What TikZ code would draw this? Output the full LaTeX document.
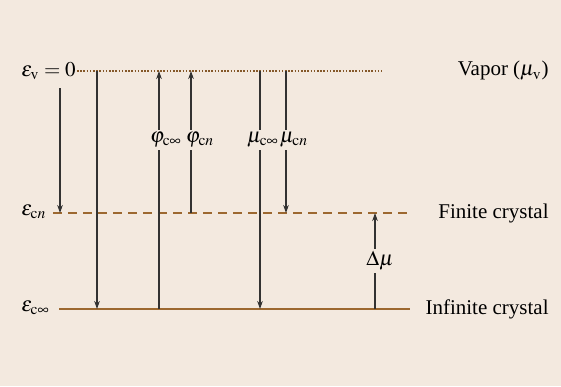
\documentclass[tikz,border=0pt]{standalone}
\usepackage{mathptmx}
\usepackage[no-math]{fontspec}
\setmainfont{Liberation Serif}
\usetikzlibrary{arrows.meta}
\definecolor{bgbeige}{RGB}{243,233,223}
\definecolor{levelbrown}{RGB}{156,104,48}
\definecolor{arrgray}{RGB}{50,50,50}

\tikzset{
  level/.style={levelbrown, line width=1pt},
  arr/.style={arrgray, line width=0.55pt, -{Stealth[length=4pt,width=2.8pt]}},
  lab/.style={fill=bgbeige, inner sep=1pt},
  lvlname/.style={inner sep=0pt, anchor=west},
  phase/.style={inner sep=0pt, anchor=east}
}

\begin{document}
\begin{tikzpicture}[x=0.5pt, y=-0.5pt, font=\fontsize{10.5}{12}\selectfont]
    \fill[bgbeige] (0,0) rectangle (561,386);

    % energy levels
    \coordinate (vapL) at (77,71);  \coordinate (vapR) at (382,71);
    \coordinate (finL) at (53,213); \coordinate (finR) at (410,213);
    \coordinate (infL) at (59,309); \coordinate (infR) at (410,309);
    \draw[level, levelbrown!85!black, line width=1.1pt, dash pattern=on 0.75pt off 0.85pt] (vapL) -- (vapR);
    \draw[level, dash pattern=on 4.5pt off 3pt] (finL) -- (finR);
    \draw[level] (infL) -- (infR);

    % level names
    \node[lvlname] (epsv) at (21,71) {$\varepsilon_{\mathrm{v}} = 0$};
    \node[lvlname] (epsn) at (21,212) {$\varepsilon_{\mathrm{c}n}$};
    \node[lvlname] (epsi) at (21,308) {$\varepsilon_{\mathrm{c}\infty}$};
    \node[phase] (vapor) at (549,71) {Vapor ($\mu_{\mathrm{v}}$)};
    \node[phase] (finite) at (549,213) {Finite crystal};
    \node[phase] (infinite) at (549,309) {Infinite crystal};

    % transitions
    \coordinate (a1) at (60,88);
    \draw[arr] (a1) -- (a1 |- finL);
    \coordinate (a2) at (97,0);
    \draw[arr] (a2 |- vapL) -- (a2 |- infL);
    \coordinate (a3) at (159,0);
    \draw[arr] (a3 |- infL) -- (a3 |- vapL);
    \coordinate (a4) at (191,0);
    \draw[arr] (a4 |- finL) -- (a4 |- vapL);
    \coordinate (a5) at (260,0);
    \draw[arr] (a5 |- vapL) -- (a5 |- infL);
    \coordinate (a6) at (286,0);
    \draw[arr] (a6 |- vapL) -- (a6 |- finL);
    \coordinate (a7) at (375,0);
    \draw[arr] (a7 |- infL) -- (a7 |- finL);

    % labels
    \node[lab] (phiinf) at (166,140) {$\varphi_{\mathrm{c}\infty}$};
    \node[lab] (phin) at (200,140) {$\varphi_{\mathrm{c}n}$};
    \node[lab] (muinf) at (263,140) {$\mu_{\mathrm{c}\infty}$};
    \node[lab] (mun) at (294,140) {$\mu_{\mathrm{c}n}$};
    \node[lab] (dmu) at (380,261) {$\Delta\mu$};
\end{tikzpicture}
\end{document}
